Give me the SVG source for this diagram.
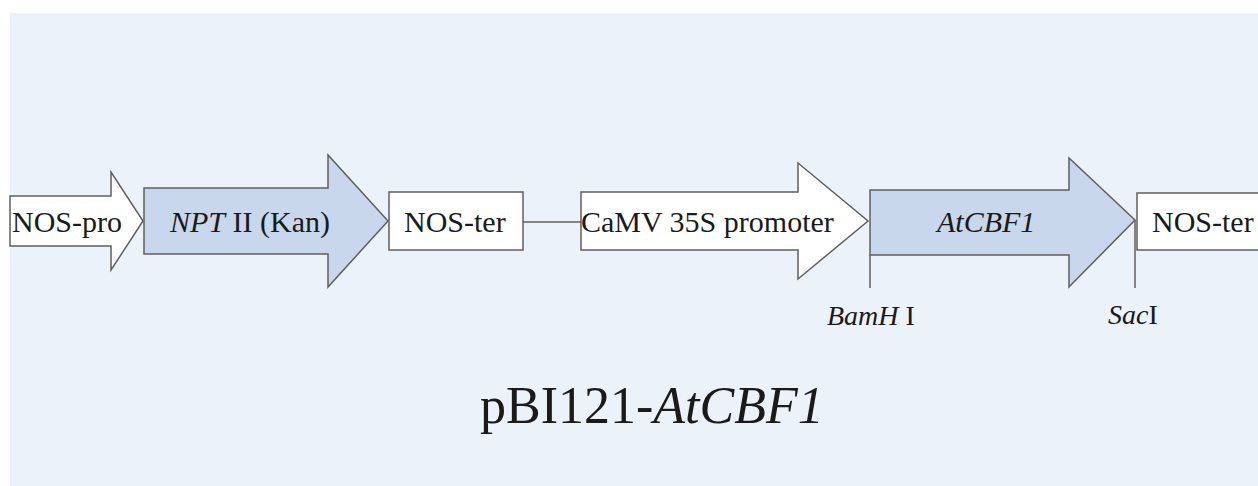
<svg xmlns="http://www.w3.org/2000/svg" width="1258" height="486" viewBox="0 0 1258 486">
<style>
.shape{stroke:#5f5f5f;stroke-width:1.5;stroke-linejoin:miter}
.white{fill:#ffffff}
.blue{fill:#c8d7ec}
.lbl{font-family:"Liberation Serif","Times New Roman",serif;font-size:30px;fill:#1a1a1a}
.site{font-family:"Liberation Serif","Times New Roman",serif;font-size:28px;fill:#1a1a1a}
.title{font-family:"Liberation Serif","Times New Roman",serif;font-size:52px;fill:#1a1a1a}
.conn{stroke:#5f5f5f;stroke-width:1.5;fill:none}
</style>
<rect x="0" y="0" width="1258" height="486" fill="#ffffff"/>
<rect x="10" y="13" width="1248" height="473" fill="#ecf2fa"/>
<g id="connectors">
<line class="conn" x1="523" y1="222" x2="581" y2="222"/>
<line class="conn" x1="870" y1="255" x2="870" y2="288"/>
<line class="conn" x1="1135" y1="220" x2="1135" y2="288"/>
</g>
<g id="nos-pro">
<polygon class="shape white" points="10,196 111,196 111,172 143,221 111,270 111,246 10,246"/>
<text class="lbl" x="12" y="232">NOS-pro</text>
</g>
<g id="nptII">
<polygon class="shape blue" points="144,188 328,188 328,155 388,221 328,287 328,254 144,254"/>
<text class="lbl" x="170" y="232"><tspan font-style="italic">NPT</tspan> II (Kan)</text>
</g>
<g id="nos-ter-1">
<rect class="shape white" x="389" y="192" width="134" height="58"/>
<text class="lbl" x="404" y="232">NOS-ter</text>
</g>
<g id="camv35s">
<polygon class="shape white" points="581,192 798,192 798,163 868,221 798,279 798,250 581,250"/>
<text class="lbl" x="581" y="232">CaMV 35S promoter</text>
</g>
<g id="atcbf1">
<polygon class="shape blue" points="870,190 1069,190 1069,158 1135,220 1069,287 1069,255 870,255"/>
<text class="lbl" x="937" y="232" font-style="italic">AtCBF1</text>
</g>
<g id="nos-ter-2">
<rect class="shape white" x="1137" y="193" width="130" height="57"/>
<text class="lbl" x="1152" y="232">NOS-ter</text>
</g>
<g id="bamhi">
<text class="site" x="827" y="325"><tspan font-style="italic">BamH</tspan> I</text>
</g>
<g id="saci">
<text class="site" x="1108" y="324"><tspan font-style="italic">Sac</tspan>I</text>
</g>
<g id="title">
<text class="title" x="480" y="423">pBI121-<tspan font-style="italic">AtCBF1</tspan></text>
</g>
</svg>
